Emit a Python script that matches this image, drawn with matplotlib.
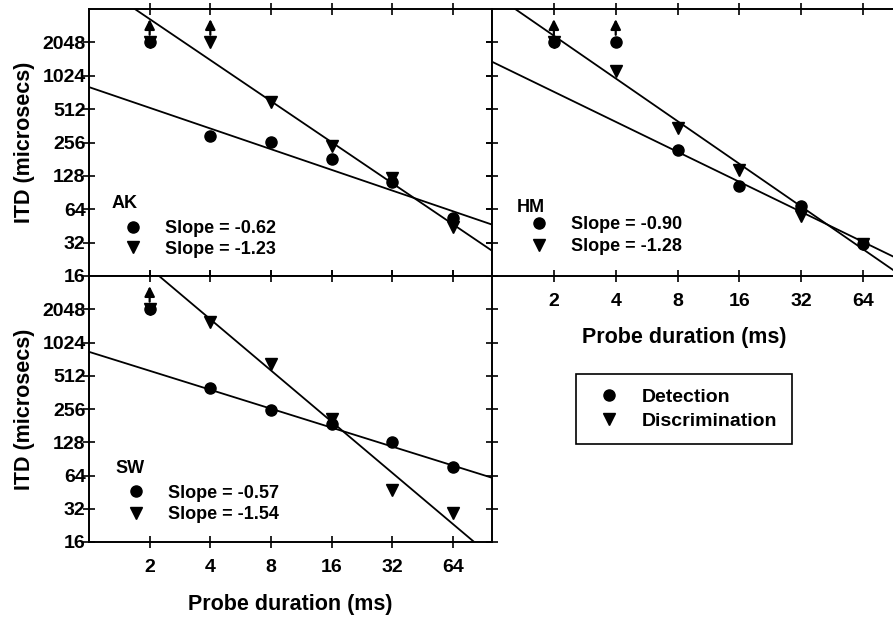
# ============================================================
# ITD thresholds versus probe duration for listeners AK, HM, SW
# Detection vs discrimination, with fitted power-law lines
# ============================================================

import numpy as np
import matplotlib
matplotlib.use('Agg')
import matplotlib.pyplot as plt
from matplotlib.lines import Line2D

# Probe durations (ms)
durations = [2, 4, 8, 16, 32, 64]

# Thresholds (microsecs) for each listener
ak_detection = [2048, 290, 258, 182, 113, 53]
ak_discrimination = [2048, 2048, 590, 240, 122, 44]
hm_detection = [2048, 2048, 220, 104, 69, 31]
hm_discrimination = [2048, 1120, 345, 146, 56, 31]
sw_detection = [2048, 396, 249, 186, 130, 77]
sw_discrimination = [2048, 1585, 652, 207, 47, 29]

# Durations where the threshold was above the largest ITD tested
ak_above = [2, 4]
hm_above = [2, 4]
sw_above = [2]

# Fitted lines: (slope, ITD at 1 ms)
ak_fit_detection = (-0.62, 809)
ak_fit_discrimination = (-1.23, 7800)
hm_fit_detection = (-0.90, 1370)
hm_fit_discrimination = (-1.28, 5710)
sw_fit_detection = (-0.57, 843)
sw_fit_discrimination = (-1.54, 14060)

# Axis ticks
x_ticks = [2, 4, 8, 16, 32, 64]
y_ticks = [16, 32, 64, 128, 256, 512, 1024, 2048]

X_LIM = (1, 100)
Y_LIM = (16, 4096)

plt.rcParams['font.family'] = ['Liberation Sans', 'DejaVu Sans']
plt.rcParams['font.weight'] = 'bold'
plt.rcParams['axes.labelweight'] = 'bold'


def draw_panel(ax, det, dis, above, fit_det, fit_dis, name,
               name_pos, legend_pos, spacing):
    """Draw one listener: fitted lines, points, arrows and slope legend."""
    xs = np.array(X_LIM, dtype=float)
    for slope, at_one in (fit_det, fit_dis):
        ax.plot(xs, at_one * xs ** slope, color='k', lw=1.3, zorder=2)

    ax.plot(durations, dis, linestyle='none', marker='v', color='k',
            ms=8.5, zorder=3)
    ax.plot(durations, det, linestyle='none', marker='o', color='k',
            ms=8, zorder=4)

    # Arrows mark thresholds beyond the largest ITD
    for d in above:
        i = durations.index(d)
        v = max(det[i], dis[i])
        ax.annotate('', xy=(d, v * 1.62), xytext=(d, v * 1.17),
                    arrowprops=dict(arrowstyle='-|>', color='k', lw=1.6,
                                    mutation_scale=15, shrinkA=0, shrinkB=0),
                    zorder=5)

    ax.set_xscale('log', base=2)
    ax.set_yscale('log', base=2)
    ax.set_xlim(*X_LIM)
    ax.set_ylim(*Y_LIM)
    ax.set_xticks(x_ticks)
    ax.set_xticklabels([str(v) for v in x_ticks])
    ax.set_yticks(y_ticks)
    ax.set_yticklabels([str(v) for v in y_ticks])
    ax.minorticks_off()
    ax.tick_params(which='major', direction='inout', length=8, width=1.2,
                   top=True, right=True, labelsize=14)
    ax.tick_params(axis='x', pad=8)
    ax.tick_params(axis='y', pad=-1.5)
    for sp in ax.spines.values():
        sp.set_linewidth(1.4)

    # Listener initials above the slope key
    ax.text(name_pos[0], name_pos[1], name, transform=ax.transAxes,
            ha='left', va='center', fontsize=13, fontweight='bold')

    handles = [
        Line2D([], [], linestyle='none', marker='o', color='k', ms=8),
        Line2D([], [], linestyle='none', marker='v', color='k', ms=8.5),
    ]
    labels = ['Slope = %.2f' % fit_det[0], 'Slope = %.2f' % fit_dis[0]]
    ax.legend(handles, labels, loc='center left',
              bbox_to_anchor=legend_pos, frameon=False,
              fontsize=13, borderpad=0, borderaxespad=0, handlelength=2.3,
              handletextpad=0.6, labelspacing=spacing)


def main():
    fig = plt.figure(figsize=(8.93, 6.17), dpi=100)

    W, H = 893.0, 617.0
    ax_ak = fig.add_axes([89 / W, 1 - 276 / H, 403 / W, 267 / H])
    ax_sw = fig.add_axes([89 / W, 1 - 542 / H, 403 / W, 266 / H])
    ax_hm = fig.add_axes([492 / W, 1 - 276 / H, 411 / W, 267 / H])

    draw_panel(ax_ak, ak_detection, ak_discrimination, ak_above,
               ak_fit_detection, ak_fit_discrimination, 'AK',
               (0.057, 0.27), (0.058, 0.139), 0.19)
    draw_panel(ax_hm, hm_detection, hm_discrimination, hm_above,
               hm_fit_detection, hm_fit_discrimination, 'HM',
               (0.061, 0.258), (0.064, 0.15), 0.28)
    draw_panel(ax_sw, sw_detection, sw_discrimination, sw_above,
               sw_fit_detection, sw_fit_discrimination, 'SW',
               (0.065, 0.276), (0.066, 0.144), 0.24)

    ax_ak.tick_params(labelbottom=False)
    ax_hm.tick_params(labelleft=False)

    ax_ak.set_ylabel('ITD (microsecs)', fontsize=15.5)
    ax_sw.set_ylabel('ITD (microsecs)', fontsize=15.5)
    ax_ak.yaxis.set_label_coords(-0.135, 0.5)
    ax_sw.yaxis.set_label_coords(-0.135, 0.5)

    ax_sw.set_xlabel('Probe duration (ms)', fontsize=15.5)
    ax_sw.xaxis.set_label_coords(0.5, -0.195)
    ax_hm.set_xlabel('Probe duration (ms)', fontsize=15.5)
    ax_hm.xaxis.set_label_coords(0.467, -0.19)

    # Shared key for the two tasks
    handles = [
        Line2D([], [], linestyle='none', marker='o', color='k', ms=8),
        Line2D([], [], linestyle='none', marker='v', color='k', ms=8.5),
    ]
    key = fig.legend(handles, ['Detection', 'Discrimination'],
                     loc='upper left', bbox_to_anchor=(576 / W, 1 - 374 / H),
                     fontsize=14, fancybox=False, edgecolor='k',
                     framealpha=1, borderpad=0.75, borderaxespad=0,
                     handlelength=1.9, handletextpad=0.75, labelspacing=0.3)
    key.get_frame().set_linewidth(1.2)

    fig.savefig('out.png', dpi=100, facecolor='white')
    plt.close(fig)


if __name__ == "__main__":
    main()
